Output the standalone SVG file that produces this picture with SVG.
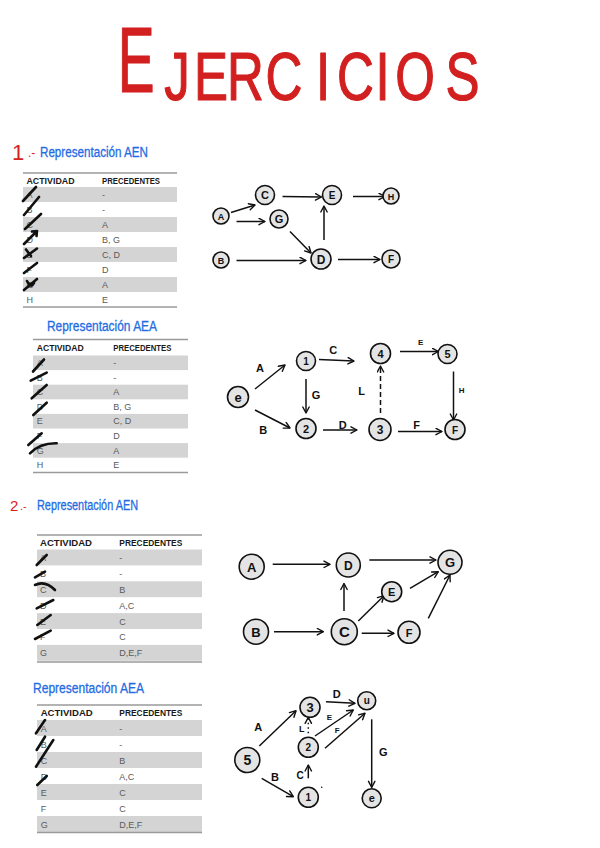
<svg xmlns="http://www.w3.org/2000/svg" width="600" height="848" viewBox="0 0 600 848">
<defs>
<marker id="ah" markerUnits="userSpaceOnUse" markerWidth="10" markerHeight="10" refX="7" refY="4" orient="auto">
<path d="M1,0.8 L7,4 L1,7.2" fill="none" stroke="#111" stroke-width="1.4" stroke-linejoin="round" stroke-linecap="round"/>
</marker>
</defs>
<style>
.title{font-family:"Liberation Sans",Arial,sans-serif;fill:#d21f1f;stroke:#d21f1f;stroke-width:1.2;stroke-linejoin:round}
.num{font-family:"Liberation Sans",Arial,sans-serif;fill:#d82222}
.hdr{font-family:"Liberation Sans",Arial,sans-serif;fill:#1f6de3;font-size:14px;stroke:#1f6de3;stroke-width:0.3}
.th{font-family:"Liberation Sans",Arial,sans-serif;font-weight:bold;font-size:9px;fill:#1a1a1a}
.td{font-family:"Liberation Sans",Arial,sans-serif;font-size:9px;fill:#5a5a5a}
.gr{fill:#d4d4d4}
.rule{stroke:#9a9a9a;stroke-width:1.4}
.x{fill:none;stroke:#111;stroke-width:2.6;stroke-linecap:round;stroke-linejoin:round}
.n circle{fill:#e4e4e4;stroke:#111;stroke-width:1.6}
.n text{font-family:"Liberation Sans",Arial,sans-serif;font-weight:bold;fill:#111;text-anchor:middle}
.e{fill:none;stroke:#111;stroke-width:1.5;marker-end:url(#ah)}
.el{font-family:"Liberation Sans",Arial,sans-serif;font-weight:bold;fill:#111;text-anchor:middle}
</style>
<rect width="600" height="848" fill="#ffffff"/>

<!-- Title -->
<text class="title" transform="scale(0.6 1)" x="227" y="92" font-size="92" text-anchor="middle">E</text>
<text class="title" transform="scale(0.75 1)" y="100" font-size="68" text-anchor="middle"><tspan x="236">J</tspan><tspan x="281.3">E</tspan><tspan x="327.3">R</tspan><tspan x="378.7">C</tspan><tspan x="430.7">I</tspan><tspan x="474">C</tspan><tspan x="510">I</tspan><tspan x="553.3">O</tspan><tspan x="616.7">S</tspan></text>

<!-- Section headers -->
<text class="num" x="12" y="160" font-size="22">1</text>
<text class="num" x="28" y="157" font-size="12">.-</text>
<text class="hdr" x="40" y="157" textLength="108" lengthAdjust="spacingAndGlyphs">Representación AEN</text>
<text class="hdr" x="47" y="331" textLength="110" lengthAdjust="spacingAndGlyphs">Representación AEA</text>
<text class="num" x="10" y="511" font-size="15">2</text>
<text class="num" x="20" y="510" font-size="11">.-</text>
<text class="hdr" x="37" y="510" textLength="101" lengthAdjust="spacingAndGlyphs">Representación AEN</text>
<text class="hdr" x="33" y="693" textLength="111" lengthAdjust="spacingAndGlyphs">Representación AEA</text>

<!-- Table 1 -->
<g id="tabla1">
<rect class="gr" x="23" y="187" width="154" height="15"/>
<rect class="gr" x="23" y="217" width="154" height="15"/>
<rect class="gr" x="23" y="247" width="154" height="15"/>
<rect class="gr" x="23" y="277" width="154" height="15"/>
<line class="rule" x1="23" y1="173" x2="177" y2="173"/>
<line class="rule" x1="23" y1="307" x2="177" y2="307"/>
<text class="th" x="26.5" y="184" textLength="48" lengthAdjust="spacingAndGlyphs">ACTIVIDAD</text>
<text class="th" x="102" y="184" textLength="58" lengthAdjust="spacingAndGlyphs">PRECEDENTES</text>
<text class="td" x="26.5" y="198">A</text><text class="td" x="102" y="198">-</text>
<text class="td" x="26.5" y="213">B</text><text class="td" x="102" y="213">-</text>
<text class="td" x="26.5" y="228">C</text><text class="td" x="102" y="228">A</text>
<text class="td" x="26.5" y="243">D</text><text class="td" x="102" y="243">B, G</text>
<text class="td" x="26.5" y="258">E</text><text class="td" x="102" y="258">C, D</text>
<text class="td" x="26.5" y="273">F</text><text class="td" x="102" y="273">D</text>
<text class="td" x="26.5" y="288">G</text><text class="td" x="102" y="288">A</text>
<text class="td" x="26.5" y="303">H</text><text class="td" x="102" y="303">E</text>
<path class="x" d="M23,201 L36,187 M24,215 L39,197 M25,229 L41,214 M24,244 L36,232 M32,231.5 L37,231 L36.5,236 M24,258 L37,248.5 M26,249.5 L31,256 M24,273 L37,263 M24,290 L37,279 M27,281 Q31,289 34,283"/>
</g>

<!-- Table 2 -->
<g id="tabla2">
<rect class="gr" x="33" y="355.5" width="155" height="14.6"/>
<rect class="gr" x="33" y="384.7" width="155" height="14.6"/>
<rect class="gr" x="33" y="413.9" width="155" height="14.6"/>
<rect class="gr" x="33" y="443.1" width="155" height="14.6"/>
<line class="rule" x1="33" y1="339.5" x2="188" y2="339.5"/>
<line class="rule" x1="33" y1="472.5" x2="188" y2="472.5"/>
<text class="th" x="36.7" y="350.5" textLength="47" lengthAdjust="spacingAndGlyphs">ACTIVIDAD</text>
<text class="th" x="113.3" y="350.5" textLength="58" lengthAdjust="spacingAndGlyphs">PRECEDENTES</text>
<text class="td" x="36.7" y="366">A</text><text class="td" x="113.3" y="366">-</text>
<text class="td" x="36.7" y="380.6">B</text><text class="td" x="113.3" y="380.6">-</text>
<text class="td" x="36.7" y="395.2">C</text><text class="td" x="113.3" y="395.2">A</text>
<text class="td" x="36.7" y="409.8">D</text><text class="td" x="113.3" y="409.8">B, G</text>
<text class="td" x="36.7" y="424.4">E</text><text class="td" x="113.3" y="424.4">C, D</text>
<text class="td" x="36.7" y="439">F</text><text class="td" x="113.3" y="439">D</text>
<text class="td" x="36.7" y="453.6">G</text><text class="td" x="113.3" y="453.6">A</text>
<text class="td" x="36.7" y="468.2">H</text><text class="td" x="113.3" y="468.2">E</text>
<path class="x" d="M33,371.5 L44,359.5 M30.7,380.7 L46.7,372.7 M31.7,398.3 L46.7,385 M33.3,415 L46.7,402.7 M28.3,445 L41.7,433.3 M30,453.3 Q40,443 56.7,443.3"/>
</g>

<!-- Table 3 -->
<g id="tabla3">
<rect class="gr" x="37" y="549.5" width="165" height="15.9"/>
<rect class="gr" x="37" y="581.3" width="165" height="15.9"/>
<rect class="gr" x="37" y="613.1" width="165" height="15.9"/>
<rect class="gr" x="37" y="644.9" width="165" height="15.9"/>
<line class="rule" x1="37" y1="535" x2="202" y2="535"/>
<line class="rule" x1="37" y1="662" x2="202" y2="662"/>
<text class="th" x="40" y="546" textLength="52" lengthAdjust="spacingAndGlyphs">ACTIVIDAD</text>
<text class="th" x="119.3" y="546" textLength="63" lengthAdjust="spacingAndGlyphs">PRECEDENTES</text>
<text class="td" x="40" y="561">A</text><text class="td" x="119.3" y="561">-</text>
<text class="td" x="40" y="577">B</text><text class="td" x="119.3" y="577">-</text>
<text class="td" x="40" y="593">C</text><text class="td" x="119.3" y="593">B</text>
<text class="td" x="40" y="609">D</text><text class="td" x="119.3" y="609">A,C</text>
<text class="td" x="40" y="625">E</text><text class="td" x="119.3" y="625">C</text>
<text class="td" x="40" y="640">F</text><text class="td" x="119.3" y="640">C</text>
<text class="td" x="40" y="656">G</text><text class="td" x="119.3" y="656">D,E,F</text>
<path class="x" d="M36.7,565 L46.7,555 M35,577.3 L45,571.7 M35,585 Q45,580 55,590 M36.7,608.3 L53.3,600 M37.3,625 L50.7,615 M35,639 L50.7,630.7"/>
</g>

<!-- Table 4 -->
<g id="tabla4">
<rect class="gr" x="37" y="720" width="165" height="16"/>
<rect class="gr" x="37" y="752" width="165" height="16"/>
<rect class="gr" x="37" y="784" width="165" height="16"/>
<rect class="gr" x="37" y="816" width="165" height="16"/>
<line class="rule" x1="37" y1="705" x2="202" y2="705"/>
<line class="rule" x1="37" y1="832.5" x2="202" y2="832.5"/>
<text class="th" x="40.7" y="716" textLength="52" lengthAdjust="spacingAndGlyphs">ACTIVIDAD</text>
<text class="th" x="119.3" y="716" textLength="63" lengthAdjust="spacingAndGlyphs">PRECEDENTES</text>
<text class="td" x="40.7" y="731.5">A</text><text class="td" x="119.3" y="731.5">-</text>
<text class="td" x="40.7" y="747.5">B</text><text class="td" x="119.3" y="747.5">-</text>
<text class="td" x="40.7" y="763.5">C</text><text class="td" x="119.3" y="763.5">B</text>
<text class="td" x="40.7" y="779.5">D</text><text class="td" x="119.3" y="779.5">A,C</text>
<text class="td" x="40.7" y="795.5">E</text><text class="td" x="119.3" y="795.5">C</text>
<text class="td" x="40.7" y="811.5">F</text><text class="td" x="119.3" y="811.5">C</text>
<text class="td" x="40.7" y="827.5">G</text><text class="td" x="119.3" y="827.5">D,E,F</text>
<path class="x" d="M36,733.3 L45,720 M36.7,750 L45,736.7 M36,766.7 L53.3,740 M37.3,785 L46.7,776"/>
</g>

<!-- Connectors -->
<g id="connectors">
<path class="e" d="M231,212.5 L255,205"/>
<path class="e" d="M236.5,221.5 L265,221.5"/>
<path class="e" d="M282.5,196.5 L321.5,197"/>
<path class="e" d="M353,196.5 L385,196.5"/>
<path class="e" d="M290,231.5 L311,253"/>
<path class="e" d="M324,240 L324,206"/>
<path class="e" d="M236.5,260.5 L306,260.5"/>
<path class="e" d="M338,259.5 L380,259.5"/>
<path class="e" d="M255,389 L285,365"/>
<path class="e" d="M255,410 L290,428"/>
<path class="e" d="M319,359.5 L354,361"/>
<path class="e" d="M306,379 L306,413"/>
<path class="e" d="M323,430 L357,430"/>
<path class="e" d="M398,431.5 L442,431.5"/>
<path class="e" d="M380.5,413 L380.5,366" stroke-dasharray="5 3"/>
<path class="e" d="M400,351.5 L438.5,351.5"/>
<path class="e" d="M453.5,371.5 L453.5,420"/>
<text class="el" x="260" y="372" font-size="11">A</text>
<text class="el" x="263.3" y="434" font-size="11">B</text>
<text class="el" x="333.3" y="354" font-size="11">C</text>
<text class="el" x="316" y="399" font-size="11">G</text>
<text class="el" x="342.7" y="429" font-size="11">D</text>
<text class="el" x="416.7" y="429" font-size="11">F</text>
<text class="el" x="361.7" y="395" font-size="11">L</text>
<text class="el" x="420.7" y="345" font-size="8">E</text>
<text class="el" x="461.7" y="393" font-size="8">H</text>
<path class="e" d="M272.7,564.3 L330,564.3"/>
<path class="e" d="M369.3,560 L436,560"/>
<path class="e" d="M344,611 L344,583.5"/>
<path class="e" d="M274,631.7 L323.3,631.7"/>
<path class="e" d="M358.3,621 L384,595.7"/>
<path class="e" d="M410,588.3 L438.3,571.7"/>
<path class="e" d="M361.7,633.3 L394,633.3"/>
<path class="e" d="M428.3,618.3 L450,575"/>
<path class="e" d="M259.3,746 L296,710.7"/>
<path class="e" d="M261.7,778.3 L293.3,796.7"/>
<path class="e" d="M308.3,778.3 L308.3,765"/>
<path class="e" d="M308.3,733.3 L308.3,717.3" stroke-dasharray="1.5 3"/>
<path class="e" d="M326,701.7 L355,703.3"/>
<path class="e" d="M315,736 L353.3,710"/>
<path class="e" d="M325,748.3 L365,713.3"/>
<path class="e" d="M371.7,719.3 L371.7,787.3"/>
<text class="el" x="258.3" y="731" font-size="11">A</text>
<text class="el" x="275" y="781" font-size="11">B</text>
<text class="el" x="300" y="779" font-size="10">C</text>
<text class="el" x="301.7" y="732" font-size="9">L</text>
<text class="el" x="336.7" y="697.5" font-size="11">D</text>
<text class="el" x="329.3" y="720" font-size="8">E</text>
<text class="el" x="337.3" y="733" font-size="8">F</text>
<text class="el" x="383.3" y="756" font-size="11">G</text>
<circle cx="321.7" cy="787.3" r="0.8" fill="#111"/>
</g>

<g id="n1-A" class="n"><circle cx="221" cy="216" r="8"/><text x="221" y="219.5" font-size="9">A</text></g>
<g id="n1-C" class="n"><circle cx="265" cy="195" r="9.5"/><text x="265" y="199" font-size="11">C</text></g>
<g id="n1-G" class="n"><circle cx="279" cy="219" r="9"/><text x="279" y="223" font-size="11">G</text></g>
<g id="n1-E" class="n"><circle cx="332" cy="195" r="9.5"/><text x="332" y="199" font-size="10">E</text></g>
<g id="n1-H" class="n"><circle cx="391" cy="196" r="8"/><text x="391" y="199.5" font-size="9">H</text></g>
<g id="n1-B" class="n"><circle cx="221" cy="260" r="8"/><text x="221" y="263.5" font-size="9">B</text></g>
<g id="n1-D" class="n"><circle cx="321" cy="259" r="10"/><text x="321" y="263.5" font-size="12">D</text></g>
<g id="n1-F" class="n"><circle cx="391" cy="259" r="9"/><text x="391" y="263" font-size="10">F</text></g>

<g id="n2-e" class="n"><circle cx="238" cy="397" r="10.5"/><text x="238" y="401.5" font-size="13">e</text></g>
<g id="n2-1" class="n"><circle cx="306" cy="361" r="9.5"/><text x="306" y="365" font-size="10">1</text></g>
<g id="n2-4" class="n"><circle cx="380.5" cy="353.5" r="10"/><text x="380.5" y="357.5" font-size="11">4</text></g>
<g id="n2-5" class="n"><circle cx="447.5" cy="354" r="9.5"/><text x="447.5" y="358" font-size="11">5</text></g>
<g id="n2-2" class="n"><circle cx="306" cy="428.5" r="10"/><text x="306" y="432.5" font-size="11">2</text></g>
<g id="n2-3" class="n"><circle cx="380" cy="429.5" r="11"/><text x="380" y="434" font-size="12">3</text></g>
<g id="n2-F" class="n"><circle cx="455" cy="429.5" r="10"/><text x="455" y="433.5" font-size="10">F</text></g>

<g id="n3-A" class="n"><circle cx="251.7" cy="566.7" r="12.5"/><text x="251.7" y="571.5" font-size="13">A</text></g>
<g id="n3-D" class="n"><circle cx="348.3" cy="565" r="12"/><text x="348.3" y="569.5" font-size="12">D</text></g>
<g id="n3-G" class="n"><circle cx="450" cy="562.3" r="12"/><text x="450" y="567" font-size="13">G</text></g>
<g id="n3-E" class="n"><circle cx="391.7" cy="591.7" r="10"/><text x="391.7" y="596" font-size="11">E</text></g>
<g id="n3-B" class="n"><circle cx="256" cy="631.7" r="12.5"/><text x="256" y="636.5" font-size="13">B</text></g>
<g id="n3-C" class="n"><circle cx="344.3" cy="631.7" r="13"/><text x="344.3" y="637" font-size="15">C</text></g>
<g id="n3-F" class="n"><circle cx="409" cy="632.3" r="11"/><text x="409" y="636.5" font-size="11">F</text></g>

<g id="n4-5" class="n"><circle cx="247.3" cy="760" r="12.5"/><text x="247.3" y="765" font-size="14">5</text></g>
<g id="n4-3" class="n"><circle cx="310" cy="707.3" r="10"/><text x="310" y="712" font-size="13">3</text></g>
<g id="n4-4" class="n"><circle cx="366.7" cy="700.7" r="9"/><text x="366.7" y="704" font-size="10">u</text></g>
<g id="n4-2" class="n"><circle cx="308.3" cy="747.3" r="10"/><text x="308.3" y="751" font-size="10">2</text></g>
<g id="n4-1" class="n"><circle cx="308.3" cy="797.3" r="10"/><text x="308.3" y="801" font-size="10">1</text></g>
<g id="n4-e" class="n"><circle cx="371.7" cy="798.3" r="9.5"/><text x="371.7" y="802" font-size="11">e</text></g>
</svg>
